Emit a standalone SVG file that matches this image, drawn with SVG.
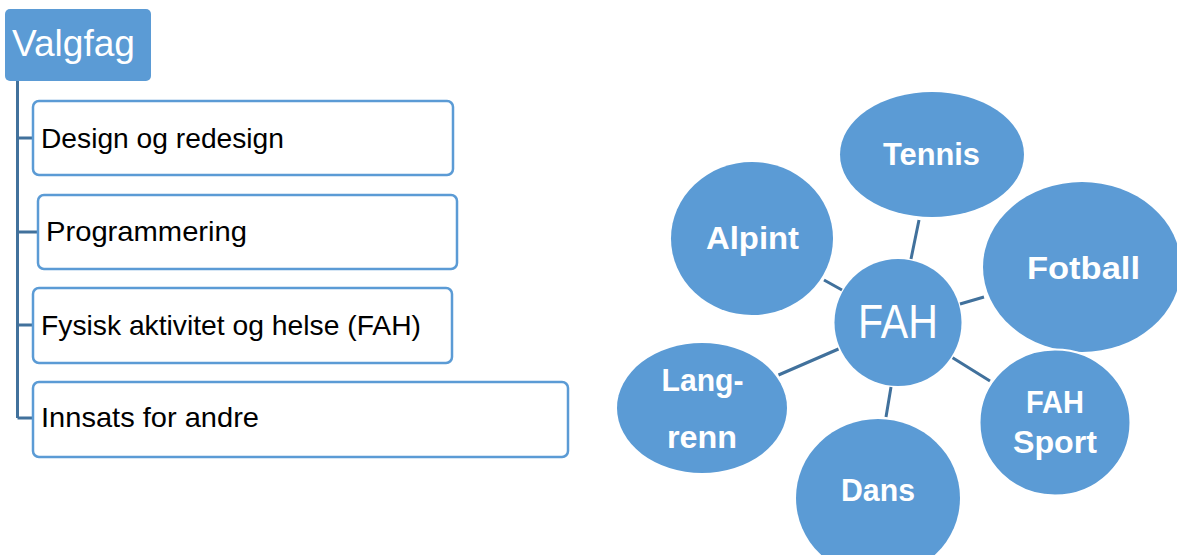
<svg xmlns="http://www.w3.org/2000/svg" width="1177" height="555" viewBox="0 0 1177 555">
<style>
.box{fill:#fff;stroke:#5b9bd5;stroke-width:2.5}
.lt{font-family:"Liberation Sans",Arial,sans-serif;font-size:28px;fill:#000}
.bub{fill:#5b9bd5}
.bt{font-family:"Liberation Sans",Arial,sans-serif;font-weight:bold;font-size:32px;fill:#fff;text-anchor:middle}
.con{stroke:#41719c;stroke-width:3;fill:none}
</style>
<defs>
<filter id="soft" x="-5%" y="-5%" width="110%" height="110%"><feGaussianBlur stdDeviation="0.7"/></filter>
</defs>
<rect width="1177" height="555" fill="#fff"/>
<g id="connectors">
<path class="con" d="M17.5 80V418M17.5 138H33M17.5 232H38M17.5 325H33M17.5 418H33"/>
<path class="con" d="M919 220L911 259M824 280L842 290M960 304L984 297M778.5 375L838.5 349M891 387L886 417M952.6 357.7L990 381" stroke-width="2.6"/>
</g>
<g id="valgfag">
<rect x="5" y="9" width="146" height="72" rx="5" fill="#5b9bd5"/>
<text x="12" y="56" font-family="'Liberation Sans',Arial,sans-serif" font-size="36" fill="#fff" textLength="123" lengthAdjust="spacingAndGlyphs">Valgfag</text>
</g>
<g id="design">
<rect class="box" x="33" y="101" width="420" height="74" rx="6"/>
<text class="lt" x="41" y="148" textLength="243" lengthAdjust="spacingAndGlyphs">Design og redesign</text>
</g>
<g id="programmering">
<rect class="box" x="38" y="195" width="419" height="74" rx="6"/>
<text class="lt" x="46" y="241" textLength="201" lengthAdjust="spacingAndGlyphs">Programmering</text>
</g>
<g id="fah-box">
<rect class="box" x="33" y="288" width="419" height="75" rx="6"/>
<text class="lt" x="41" y="335" textLength="380" lengthAdjust="spacingAndGlyphs">Fysisk aktivitet og helse (FAH)</text>
</g>
<g id="innsats">
<rect class="box" x="33" y="382" width="535" height="75" rx="6"/>
<text class="lt" x="41" y="427" textLength="218" lengthAdjust="spacingAndGlyphs">Innsats for andre</text>
</g>
<g id="tennis">
<ellipse class="bub" cx="932" cy="154.5" rx="92" ry="62.5"/>
<text class="bt" x="931.5" y="165" textLength="97" lengthAdjust="spacingAndGlyphs">Tennis</text>
</g>
<g id="alpint">
<ellipse class="bub" cx="752" cy="238.5" rx="81" ry="76.5"/>
<text class="bt" x="752.5" y="249" textLength="93" lengthAdjust="spacingAndGlyphs">Alpint</text>
</g>
<g id="fotball">
<ellipse class="bub" cx="1082" cy="267" rx="99" ry="85" filter="url(#soft)"/>
<text class="bt" x="1083.5" y="279" font-size="36" textLength="113" lengthAdjust="spacingAndGlyphs">Fotball</text>
</g>
<g id="fah">
<circle class="bub" cx="898" cy="322.5" r="63.5"/>
<text x="898" y="338" font-family="'Liberation Sans',Arial,sans-serif" font-size="48" fill="#fff" text-anchor="middle" textLength="80" lengthAdjust="spacingAndGlyphs">FAH</text>
</g>
<g id="langrenn">
<ellipse class="bub" cx="702" cy="408" rx="85" ry="65"/>
<text class="bt" x="702.5" y="391" textLength="82" lengthAdjust="spacingAndGlyphs">Lang-</text>
<text class="bt" x="702" y="448" textLength="70" lengthAdjust="spacingAndGlyphs">renn</text>
</g>
<g id="dans">
<ellipse class="bub" cx="878" cy="498" rx="82" ry="79"/>
<text class="bt" x="878" y="501" textLength="74" lengthAdjust="spacingAndGlyphs">Dans</text>
</g>
<g id="fahsport">
<ellipse class="bub" cx="1055" cy="422.5" rx="75.5" ry="73" stroke="#fff" stroke-width="2"/>
<text class="bt" x="1055" y="413" textLength="58" lengthAdjust="spacingAndGlyphs">FAH</text>
<text class="bt" x="1055" y="453" textLength="84" lengthAdjust="spacingAndGlyphs">Sport</text>
</g>
</svg>
